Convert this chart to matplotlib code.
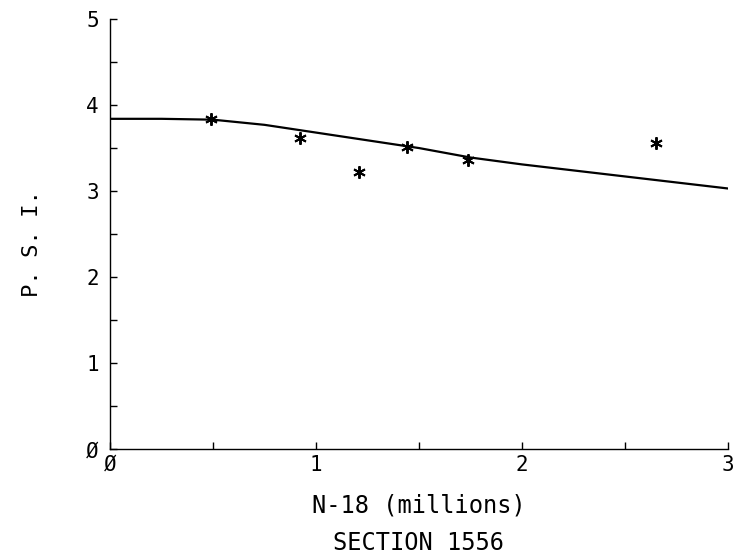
import matplotlib
matplotlib.use('Agg')
import matplotlib.pyplot as plt
from matplotlib.ticker import MultipleLocator

# fitted performance curve (P.S.I. against N-18 in millions)
curve_n18 = [0.0, 0.25, 0.5, 0.75, 1.0, 1.25, 1.5, 1.75, 2.0, 2.25, 2.5, 2.75, 3.0]
curve_psi = [3.84, 3.84, 3.83, 3.77, 3.68, 3.59, 3.50, 3.39, 3.31, 3.24, 3.17, 3.10, 3.03]

# observed values
obs_n18 = [0.49, 0.92, 1.21, 1.44, 1.74, 2.65]
obs_psi = [3.84, 3.62, 3.22, 3.51, 3.36, 3.56]

x_ticks = [0, 1, 2, 3]
y_ticks = [0, 1, 2, 3, 4, 5]


def label(v):
    # plotter style slashed zero
    return '\u00d8' if v == 0 else str(v)


plt.rcParams['font.family'] = ['DejaVu Sans Mono']

fig = plt.figure(figsize=(7.45, 5.6), dpi=100)
ax = fig.add_axes([0.1477, 0.198, 0.8295, 0.768])

ax.plot(curve_n18, curve_psi, color='black', lw=1.6)
ax.plot(obs_n18, obs_psi, linestyle='none', marker=(6, 2, 0), markersize=9,
        markeredgewidth=1.4, color='black')

ax.set_xlim(0, 3)
ax.set_ylim(0, 5)
ax.set_xticks(x_ticks)
ax.set_yticks(y_ticks)
ax.set_xticklabels([label(v) for v in x_ticks])
ax.set_yticklabels([label(v) for v in y_ticks])
ax.xaxis.set_minor_locator(MultipleLocator(0.5))
ax.yaxis.set_minor_locator(MultipleLocator(0.5))

for side in ('top', 'right'):
    ax.spines[side].set_visible(False)
for side in ('left', 'bottom'):
    ax.spines[side].set_linewidth(1.0)

ax.tick_params(which='both', direction='in', length=5, width=1.0, labelsize=15)
ax.tick_params(axis='x', which='both', pad=4)
ax.tick_params(axis='y', which='both', pad=8)

fig.text(0.043, 0.566, 'P. S. I.', rotation=90, ha='center', va='center', fontsize=16)
fig.text(0.562, 0.098, 'N-18 (millions)', ha='center', va='center', fontsize=17)
fig.text(0.562, 0.030, 'SECTION 1556', ha='center', va='center', fontsize=17)

fig.savefig('out.png', dpi=100)
